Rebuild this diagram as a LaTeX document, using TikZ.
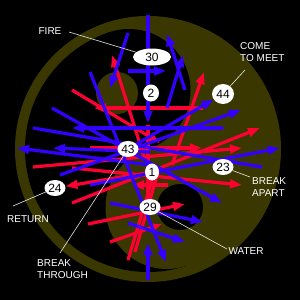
\documentclass[tikz,border=0pt]{standalone}
\usepackage{fontspec}
\setmainfont{Liberation Sans}
\usepackage{tikz}
\usetikzlibrary{arrows.meta, shapes.geometric, backgrounds}
\definecolor{yinolive}{RGB}{58,56,0}
\definecolor{arrblue}{RGB}{51,0,255}
\definecolor{arrred}{RGB}{255,0,51}

\begin{document}
\begin{tikzpicture}[x=1pt, y=-1pt,
  bluearr/.style={draw=arrblue, line width=3.2pt, -{Triangle[length=12pt, width=8.5pt]}},
  redarr/.style={draw=arrred, line width=3.2pt, -{Triangle[length=12pt, width=8.5pt]}},
  num/.style={ellipse, fill=white, inner sep=0pt, minimum width=21pt, minimum height=16pt, font=\fontsize{12}{12}\selectfont},
  lbl/.style={text=white, font=\fontsize{10}{12.5}\selectfont, align=left, inner sep=0pt},
  leader/.style={draw=white!80!gray, line width=0.6pt}]
\useasboundingbox (0,0) rectangle (300,300);
% hexagram numbers
\node[num, minimum width=38pt, minimum height=17pt] (n30) at (152,57) {30};
\node[num, minimum width=16pt, minimum height=17pt] (n2) at (151,93) {2};
\node[num, minimum width=22pt, minimum height=20pt] (n44) at (223,94) {44};
\node[num] (n43) at (128,149) {43};
\node[num, minimum width=14pt, minimum height=17pt] (n1) at (152,172) {1};
\node[num] (n23) at (223,167) {23};
\node[num] (n24) at (55,188) {24};
\node[num] (n29) at (150,207) {29};
% texts
\node[lbl] (tfire) at (50,31) {FIRE};
\node[lbl, anchor=north west] (tmeet) at (240,42) {COME\\TO MEET};
\node[lbl, anchor=north west] (tapart) at (252,177) {BREAK\\APART};
\node[lbl] (treturn) at (28,219) {RETURN};
\node[lbl] (twater) at (246,251) {WATER};
\node[lbl, anchor=north west] (tthrough) at (37,259) {BREAK\\THROUGH};
% leader lines
\coordinate (cfire) at (69,32);
\coordinate (cmeet) at (245,70);
\coordinate (capart) at (250,177);
\coordinate (creturn) at (13,206);
\coordinate (cwater) at (227,249);
\coordinate (cthrough) at (60,253);
\draw[leader] (cfire) -- (n30);
\draw[leader] (cmeet) -- (n44);
\draw[leader] (n23) -- (capart);
\draw[leader] (n24) -- (creturn);
\draw[leader] (n29) -- (cwater);
\draw[leader] (n43) -- (cthrough);

\begin{pgfonlayer}{background}
\fill[black] (0,0) rectangle (300,300);
% yin-yang (axis tilted 18 degrees)
\fill[yinolive] (148,149) circle[radius=133pt];
\begin{scope}
  \clip (148,149) circle[radius=123pt];
  \fill[black] (109.7,31.1) -- (-8.2,69.4) -- (68.4,305.2) -- (186.3,266.9) -- cycle;
  \fill[black] (129,90.5) circle[radius=61.5pt];
  \fill[yinolive] (167,207.5) circle[radius=61.5pt];
\end{scope}
\fill[yinolive] (117,93) circle[radius=21pt];
\fill[black] (180,207) circle[radius=23pt];
% red lines
\foreach \xa/\ya/\xb/\yb in {145/160/112/55, 172/165/204/72, 203/108/94/108,
  72/90/160/143, 90/148/202/148, 33/167/242/148, 72/168/242/185,
  72/203/260/128, 88/224/185/204, 110/242/162/224, 168/185/132/185} {
  \draw[redarr] (\xa,\ya) -- (\xb,\yb);
}
\foreach \xa/\ya/\xb/\yb in {128/260/152/180, 148/125/148/210, 158/172/135/252} {
  \draw[redarr, -] (\xa,\ya) -- (\xb,\yb);
}
\draw[redarr] (n1) -- (n24);
% blue lines
\foreach \xa/\ya/\xb/\yb in {148/15/148/123, 128/33/110/88, 128/71/166/71,
  185/90/167/34, 167/108/183/55, 90/72/166/262, 223/128/72/128,
  52/108/222/203, 150/165/17/148, 150/152/53/148, 60/175/241/110,
  90/185/280/148, 110/203/203/222, 128/223/185/242, 148/280/148/243} {
  \draw[bluearr] (\xa,\ya) -- (\xb,\yb);
}
\draw[bluearr, -] (33,128) -- (262,167);
\draw[bluearr] (n43) -- (n44);
\end{pgfonlayer}
\end{tikzpicture}
\end{document}
